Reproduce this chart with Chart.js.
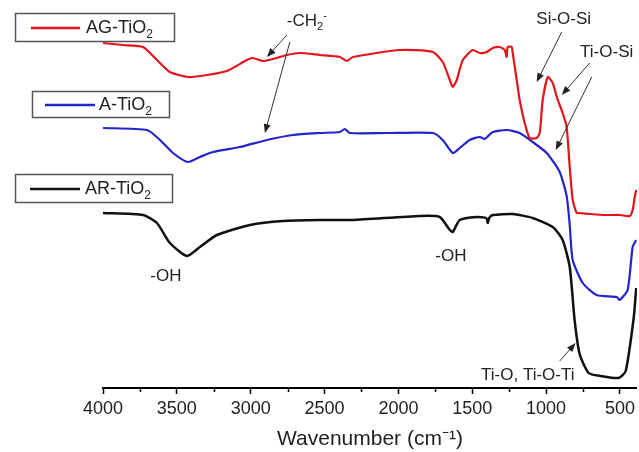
<!DOCTYPE html>
<html>
<head>
<meta charset="utf-8">
<script src="https://cdn.jsdelivr.net/npm/chart.js@4.4.1/dist/chart.umd.min.js"></script>
<style>
  html, body { margin: 0; padding: 0; background: #fff; }
  #wrap { width: 639px; height: 452px; position: relative; }
</style>
</head>
<body>
<div id="wrap"><canvas id="ftirChart"></canvas></div>
<script>
// FTIR spectra, transmittance in arbitrary units (curves offset)
const agWave = [4000, 3865, 3729, 3635, 3547, 3425, 3296, 3161, 3026, 2985, 2917, 2850, 2755, 2667, 2532, 2396, 2349, 2308, 1990, 1767, 1700, 1652, 1632, 1605, 1564, 1497, 1449, 1402, 1361, 1314, 1280, 1267, 1260, 1233, 1226, 1199, 1179, 1145, 1111, 1064, 1043, 1023, 989, 955, 928, 888, 861, 840, 820, 793, 773, 700, 600, 500, 434, 414, 400, 390];
const agValue = [345, 343, 341, 328, 316, 311, 313, 317, 328, 330, 327, 329, 333, 335, 333, 331, 327, 331, 338, 336, 326, 308, 301, 308, 328, 338, 335, 336, 340, 341, 338, 331, 341, 341, 335, 308, 288, 265, 250, 250, 255, 288, 311, 305, 291, 275, 261, 221, 188, 175, 175, 174, 173, 173, 172, 178, 191, 198];

const aWave = [4000, 3702, 3614, 3526, 3425, 3344, 3256, 3073, 2890, 2714, 2532, 2396, 2363, 2330, 2078, 1767, 1700, 1632, 1585, 1517, 1449, 1415, 1361, 1267, 1179, 1091, 996, 908, 861, 840, 820, 752, 658, 522, 502, 448, 414, 390];
const aValue = [260, 258, 248, 235, 226, 231, 236, 241, 248, 253, 255, 256, 259, 255, 255, 255, 248, 235, 240, 248, 251, 249, 256, 258, 255, 246, 235, 216, 192, 163, 128, 105, 93, 91, 88, 98, 141, 148];

const arWave = [4000, 3729, 3635, 3547, 3432, 3344, 3229, 3005, 2782, 2532, 2308, 1855, 1720, 1652, 1632, 1585, 1470, 1405, 1395, 1385, 1361, 1226, 1091, 955, 888, 840, 807, 773, 712, 631, 509, 461, 407, 390];
const arValue = [175, 173, 165, 145, 132, 141, 153, 163, 167, 168, 168, 172, 171, 158, 156, 168, 171, 170, 165, 170, 173, 174, 170, 161, 148, 121, 68, 34, 15, 12, 10, 17, 70, 100];

const tickValues = [4000, 3500, 3000, 2500, 2000, 1500, 1000, 500];
const minorTickValues = [3750, 3250, 2750, 2250, 1750, 1250, 750];

const toPoints = (xs, ys) => xs.map((x, i) => ({ x: x, y: ys[i] }));

const FONT = "'Liberation Sans', Arial, sans-serif";
const TEXT_COLOR = "#222";

// series legend boxes, one next to each curve
const legendBoxes = [
  { label: "AG-TiO", sub: "2", color: "#e3141b", box: [15, 13, 159, 28], line: [31, 80, 28], textX: 86 },
  { label: "A-TiO", sub: "2", color: "#2424c8", box: [32, 91, 137, 26], line: [45, 95, 105], textX: 99 },
  { label: "AR-TiO", sub: "2", color: "#111111", box: [15, 174, 157, 28], line: [30, 80, 189], textX: 85 },
];

// band labels and arrows, placed in data coordinates (wavenumber, level)
const bandLabels = [
  { parts: [["-CH"], ["2", "sub"], ["-", "sup"]], at: [2620, 367], arrows: [[2755, 353, 2890, 331], [2735, 346, 2904, 255]] },
  { parts: [["Si-O-Si"]], at: [881, 369], arrows: [[894, 356, 1064, 306]] },
  { parts: [["Ti-O-Si"]], at: [590, 336], arrows: [[705, 325, 894, 293], [691, 311, 935, 238]] },
  { parts: [["-OH"]], at: [3574, 112], arrows: [] },
  { parts: [["-OH"]], at: [1645, 132], arrows: [] },
  { parts: [["Ti-O, Ti-O-Ti"]], at: [1124, 13], arrows: [[908, 27, 800, 45]] },
];

function drawParts(ctx, parts, cx, cy, size) {
  const widths = parts.map((p) => {
    ctx.font = (p[1] ? size * 0.65 : size) + "px " + FONT;
    return ctx.measureText(p[0]).width;
  });
  let x = cx - widths.reduce((a, b) => a + b, 0) / 2;
  ctx.textBaseline = "middle";
  ctx.textAlign = "left";
  parts.forEach((p, i) => {
    let dy = 0;
    if (p[1] === "sub") dy = size * 0.35;
    if (p[1] === "sup") dy = -size * 0.3;
    ctx.font = (p[1] ? size * 0.65 : size) + "px " + FONT;
    ctx.fillText(p[0], x, cy + dy);
    x += widths[i];
  });
}

function drawArrow(ctx, x1, y1, x2, y2) {
  const ang = Math.atan2(y2 - y1, x2 - x1);
  const len = 9, half = 3.5;
  ctx.beginPath();
  ctx.moveTo(x1, y1);
  ctx.lineTo(x2 - Math.cos(ang) * len * 0.8, y2 - Math.sin(ang) * len * 0.8);
  ctx.stroke();
  ctx.beginPath();
  ctx.moveTo(x2, y2);
  ctx.lineTo(x2 - Math.cos(ang) * len - Math.sin(ang) * half, y2 - Math.sin(ang) * len + Math.cos(ang) * half);
  ctx.lineTo(x2 - Math.cos(ang) * len + Math.sin(ang) * half, y2 - Math.sin(ang) * len - Math.cos(ang) * half);
  ctx.closePath();
  ctx.fill();
}

const extrasPlugin = {
  id: "extras",
  afterDraw(chart) {
    const ctx = chart.ctx;
    const xs = chart.scales.x;
    const ys = chart.scales.y;
    ctx.save();

    // minor ticks
    ctx.strokeStyle = "#000";
    ctx.lineWidth = 1.5;
    minorTickValues.forEach((v) => {
      const px = Math.round(xs.getPixelForValue(v)) + 0.5;
      ctx.beginPath();
      ctx.moveTo(px, xs.top);
      ctx.lineTo(px, xs.top + 4);
      ctx.stroke();
    });

    // legend boxes
    legendBoxes.forEach((lb) => {
      ctx.strokeStyle = "#555";
      ctx.lineWidth = 1.5;
      ctx.strokeRect(lb.box[0] + 0.5, lb.box[1] + 0.5, lb.box[2], lb.box[3]);
      ctx.strokeStyle = lb.color;
      ctx.lineWidth = 2.5;
      ctx.beginPath();
      ctx.moveTo(lb.line[0], lb.line[2]);
      ctx.lineTo(lb.line[1], lb.line[2]);
      ctx.stroke();
      ctx.fillStyle = TEXT_COLOR;
      ctx.textBaseline = "middle";
      ctx.textAlign = "left";
      ctx.font = "18px " + FONT;
      ctx.fillText(lb.label, lb.textX, lb.line[2]);
      const w = ctx.measureText(lb.label).width;
      ctx.font = "12px " + FONT;
      ctx.fillText(lb.sub, lb.textX + w, lb.line[2] + 7);
    });

    // band labels with arrows
    ctx.fillStyle = TEXT_COLOR;
    ctx.strokeStyle = "#333";
    ctx.lineWidth = 1;
    bandLabels.forEach((b) => {
      drawParts(ctx, b.parts, xs.getPixelForValue(b.at[0]), ys.getPixelForValue(b.at[1]), 17);
      b.arrows.forEach((a) => {
        drawArrow(ctx, xs.getPixelForValue(a[0]), ys.getPixelForValue(a[1]),
          xs.getPixelForValue(a[2]), ys.getPixelForValue(a[3]));
      });
    });
    ctx.restore();
  },
};

const ftirChart = document.getElementById("ftirChart").getContext("2d");

new Chart(ftirChart, {
  type: "line",
  data: {
    datasets: [
      {
        label: "AG-TiO2",
        data: toPoints(agWave, agValue),
        borderColor: "#e3141b",
        borderWidth: 2.2,
        pointRadius: 0,
        tension: 0.2,
      },
      {
        label: "A-TiO2",
        data: toPoints(aWave, aValue),
        borderColor: "#2424c8",
        borderWidth: 2.2,
        pointRadius: 0,
        tension: 0.2,
      },
      {
        label: "AR-TiO2",
        data: toPoints(arWave, arValue),
        borderColor: "#111111",
        borderWidth: 2.5,
        pointRadius: 0,
        tension: 0.2,
      },
    ],
  },
  options: {
    responsive: true,
    maintainAspectRatio: false,
    animation: false,
    layout: {
      padding: { left: 103, right: 1, top: 0, bottom: 0 },
    },
    plugins: {
      legend: { display: false },
      tooltip: { enabled: false },
    },
    scales: {
      x: {
        type: "linear",
        reverse: true,
        min: 385,
        max: 4000,
        afterBuildTicks: (scale) => {
          scale.ticks = tickValues.map((v) => ({ value: v }));
        },
        afterFit: (scale) => {
          scale.height = 64;
        },
        border: { display: true, color: "#000", width: 2 },
        grid: {
          drawOnChartArea: false,
          drawTicks: true,
          tickLength: 6,
          tickColor: "#000",
          tickWidth: 1.5,
        },
        ticks: {
          color: TEXT_COLOR,
          font: { family: FONT, size: 18 },
          padding: 4,
          maxRotation: 0,
          autoSkip: false,
          callback: (value) => String(value),
        },
        title: {
          display: true,
          text: "Wavenumber (cm⁻¹)",
          color: TEXT_COLOR,
          font: { family: FONT, size: 21 },
          padding: { top: 2, bottom: 0 },
        },
      },
      y: {
        display: false,
        min: 0,
        max: 388,
      },
    },
  },
  plugins: [extrasPlugin],
});
</script>
</body>
</html>
